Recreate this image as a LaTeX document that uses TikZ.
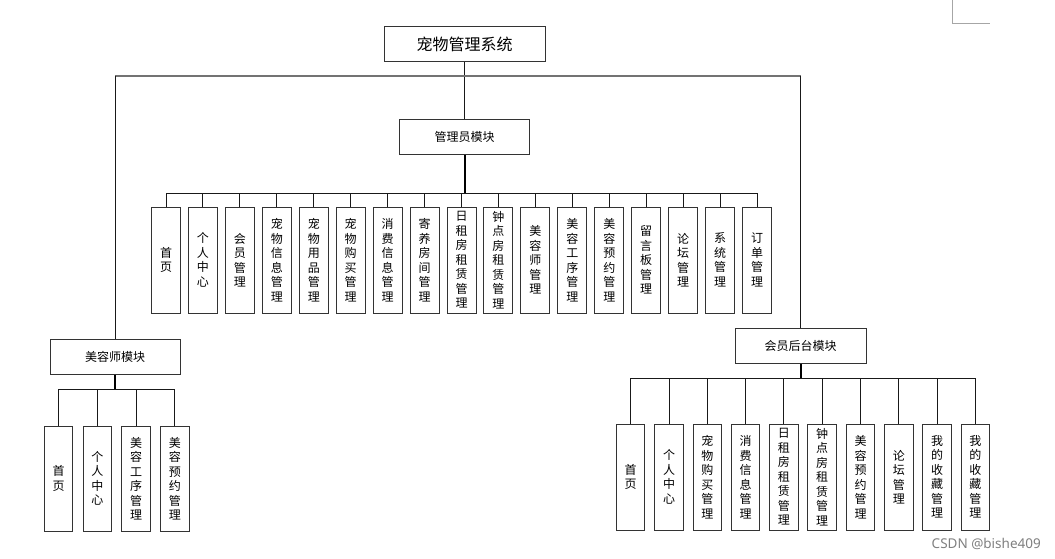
\documentclass[tikz,border=0pt]{standalone}
\usepackage{fontspec}
\setmainfont{Noto Sans CJK SC}
\setsansfont{Noto Sans}
\begin{document}
\begin{tikzpicture}[x=1pt,y=-1pt,
  box/.style={draw=black!80, line width=1pt, fill=white, inner sep=0pt},
  modbox/.style={box, minimum width=130pt, minimum height=35pt, font=\fontsize{12}{14}\selectfont},
  leaf/.style={box, minimum width=29pt, minimum height=106pt, align=center, font=\fontsize{12}{14.5}\selectfont},
  conn/.style={draw=black!90, line width=0.9pt},
  stem/.style={draw=black, line width=2pt},
  hbar/.style={draw=black!55, line width=1.6pt}]
\useasboundingbox (0,0) rectangle (1055,559);
\fill[white] (0,0) rectangle (1055,559);

% top level
\node[box, minimum width=161pt, minimum height=35pt, font=\fontsize{16}{18}\selectfont] (top) at (464.5,44.5) {宠物管理系统};
\node[modbox] (admin) at (464.5,137) {管理员模块};
\node[modbox] (beauty) at (115,356.5) {美容师模块};
\node[modbox, minimum width=131pt] (member) at (800.5,346) {会员后台模块};

\coordinate (tl) at (beauty.north |- 0,76);
\coordinate (tr) at (member.north |- 0,76);
\draw[conn] (top.south) -- (admin.north);
\draw[hbar] (tl) -- (tr);
\draw[conn] (tl) -- (beauty.north);
\draw[conn] (tr) -- (member.north);

% admin leaves
\foreach \t [count=\i from 0] in {{首\\页},{个\\人\\中\\心},{会\\员\\管\\理},{宠\\物\\信\\息\\管\\理},{宠\\物\\用\\品\\管\\理},{宠\\物\\购\\买\\管\\理},{消\\费\\信\\息\\管\\理},{寄\\养\\房\\间\\管\\理},{日\\租\\房\\租\\赁\\管\\理},{钟\\点\\房\\租\\赁\\管\\理},{美\\容\\师\\管\\理},{美\\容\\工\\序\\管\\理},{美\\容\\预\\约\\管\\理},{留\\言\\板\\管\\理},{论\\坛\\管\\理},{系\\统\\管\\理},{订\\单\\管\\理}}
  \node[leaf] (a\i) at ({166+36.94*\i},260) {\t};
\coordinate (abus) at (admin.south |- 0,193);
\foreach \i in {0,...,16} \draw[conn] (abus) -| (a\i.north);
\draw[stem] (admin.south) -- (abus);

% beauty leaves
\foreach \t [count=\i from 0] in {{首\\页},{个\\人\\中\\心},{美\\容\\工\\序\\管\\理},{美\\容\\预\\约\\管\\理}}
  \node[leaf, minimum width=28.5pt, minimum height=105pt] (b\i) at ({58.7+38.7*\i},478.5) {\t};
\coordinate (bbus) at (beauty.south |- 0,389);
\foreach \i in {0,...,3} \draw[conn] (bbus) -| (b\i.north);
\draw[stem] (beauty.south) -- (bbus);

% member leaves
\foreach \t [count=\i from 0] in {{首\\页},{个\\人\\中\\心},{宠\\物\\购\\买\\管\\理},{消\\费\\信\\息\\管\\理},{日\\租\\房\\租\\赁\\管\\理},{钟\\点\\房\\租\\赁\\管\\理},{美\\容\\预\\约\\管\\理},{论\\坛\\管\\理},{我\\的\\收\\藏\\管\\理},{我\\的\\收\\藏\\管\\理}}
  \node[leaf, minimum width=28.5pt] (m\i) at ({630.7+38.3*\i},477) {\t};
\coordinate (mbus) at (member.south |- 0,378);
\foreach \i in {0,...,9} \draw[conn] (mbus) -| (m\i.north);
\draw[stem] (member.south) -- (mbus);

% corner mark and watermark
\draw[black!35, line width=0.8pt] (952,0) -- (952,23) -- (990,23);
\node[text=black!50, font=\sffamily\fontsize{13.5}{14}\selectfont, anchor=east, inner sep=0pt] (wm) at (1041,544) {CSDN @bishe409};
\end{tikzpicture}
\end{document}
